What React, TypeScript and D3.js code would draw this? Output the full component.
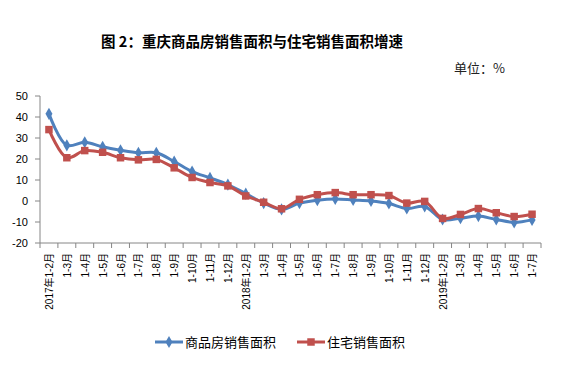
import React from "react";
import * as d3 from "d3";

const categories = [
  "2017年1-2月", "1-3月", "1-4月", "1-5月", "1-6月", "1-7月", "1-8月", "1-9月", "1-10月", "1-11月", "1-12月",
  "2018年1-2月", "1-3月", "1-4月", "1-5月", "1-6月", "1-7月", "1-8月", "1-9月", "1-10月", "1-11月", "1-12月",
  "2019年1-2月", "1-3月", "1-4月", "1-5月", "1-6月", "1-7月",
];
const commercialArea = [
  41.5, 26.5, 28.0, 25.8, 24.2, 23.0, 23.0, 18.8, 14.0, 11.0, 7.8,
  3.5, -1.0, -4.0, -1.0, 0.4, 1.0, 0.5, 0.0, -1.2, -3.6, -2.6,
  -8.8, -8.2, -7.2, -8.8, -10.2, -9.0,
];
const residentialArea = [
  34.0, 20.6, 24.0, 23.2, 20.6, 19.6, 19.8, 15.8, 11.2, 8.8, 7.2,
  2.4, -0.6, -3.7, 0.8, 3.0, 4.0, 3.0, 3.0, 2.6, -1.0, -0.2,
  -8.3, -6.4, -3.6, -5.6, -7.4, -6.3,
];
const yTicks = [50, 40, 30, 20, 10, 0, -10, -20];
const seriesNames = ["商品房销售面积", "住宅销售面积"];

const BLUE = "#4F81BD";
const RED = "#C0504D";
const FONT = "'Liberation Sans', Arial, 'Noto Sans CJK SC', sans-serif";

export default function App() {
  const W = 576, H = 370;
  const left = 40, right = 541, top = 96, bottom = 243;
  const x = d3.scaleBand<number>().domain(d3.range(categories.length)).range([left, right]);
  const y = d3.scaleLinear().domain([-20, 50]).range([bottom, top]);
  const cx = (i: number) => (x(i) as number) + x.bandwidth() / 2;
  const line = d3.line<number>().x((_, i) => cx(i)).y((d) => y(d)).curve(d3.curveCatmullRom.alpha(0.5));
  const diamond = d3.symbol().type(d3.symbolDiamond).size(42)() as string;
  const square = d3.symbol().type(d3.symbolSquare).size(56)() as string;

  return (
    <svg width={W} height={H} style={{ position: "absolute", left: 0, top: 0, background: "#fff" }} fontFamily={FONT}>
      <text x={252} y={47} textAnchor="middle" fontSize={14.5} fontWeight="bold" fill="#000"
        fontFamily="'Noto Sans CJK SC', sans-serif">图 2：重庆商品房销售面积与住宅销售面积增速</text>
      <text x={505} y={73} textAnchor="end" fontSize={13} fill="#222"
        fontFamily="'Noto Sans CJK SC', sans-serif">单位：%</text>

      {/* y axis */}
      <line x1={left} x2={left} y1={top} y2={bottom} stroke="#868686" />
      {yTicks.map((t) => (
        <g key={t}>
          <line x1={left - 5} x2={left} y1={y(t)} y2={y(t)} stroke="#868686" />
          <text x={left - 12} y={y(t)} dy="0.35em" textAnchor="end" fontSize={11} fill="#000">{t}</text>
        </g>
      ))}
      {/* x axis */}
      <line x1={left} x2={right} y1={bottom} y2={bottom} stroke="#868686" />
      {d3.range(categories.length + 1).map((i) => {
        const xx = i < categories.length ? (x(i) as number) : right;
        return <line key={i} x1={xx} x2={xx} y1={bottom} y2={bottom + 5} stroke="#868686" />;
      })}
      {categories.map((c, i) => (
        <text key={i} transform={`translate(${cx(i) + 4},${bottom + 10}) rotate(-90)`} textAnchor="end"
          fontSize={10} fill="#000">{c}</text>
      ))}

      {/* series */}
      <path d={line(commercialArea) as string} fill="none" stroke={BLUE} strokeWidth={3} />
      {commercialArea.map((v, i) => (
        <path key={i} d={diamond} transform={`translate(${cx(i)},${y(v)})`} fill={BLUE} />
      ))}
      <path d={line(residentialArea) as string} fill="none" stroke={RED} strokeWidth={3} />
      {residentialArea.map((v, i) => (
        <path key={i} d={square} transform={`translate(${cx(i)},${y(v)})`} fill={RED} />
      ))}

      {/* legend */}
      <line x1={155} x2={183} y1={342} y2={342} stroke={BLUE} strokeWidth={3} />
      <path d={diamond} transform="translate(169,342)" fill={BLUE} />
      <text x={185} y={342} dy="0.35em" fontSize={13} fill="#000" fontFamily="'Noto Sans CJK SC', sans-serif">{seriesNames[0]}</text>
      <line x1={297} x2={325} y1={342} y2={342} stroke={RED} strokeWidth={3} />
      <path d={square} transform="translate(311,342)" fill={RED} />
      <text x={327} y={342} dy="0.35em" fontSize={13} fill="#000" fontFamily="'Noto Sans CJK SC', sans-serif">{seriesNames[1]}</text>
    </svg>
  );
}
